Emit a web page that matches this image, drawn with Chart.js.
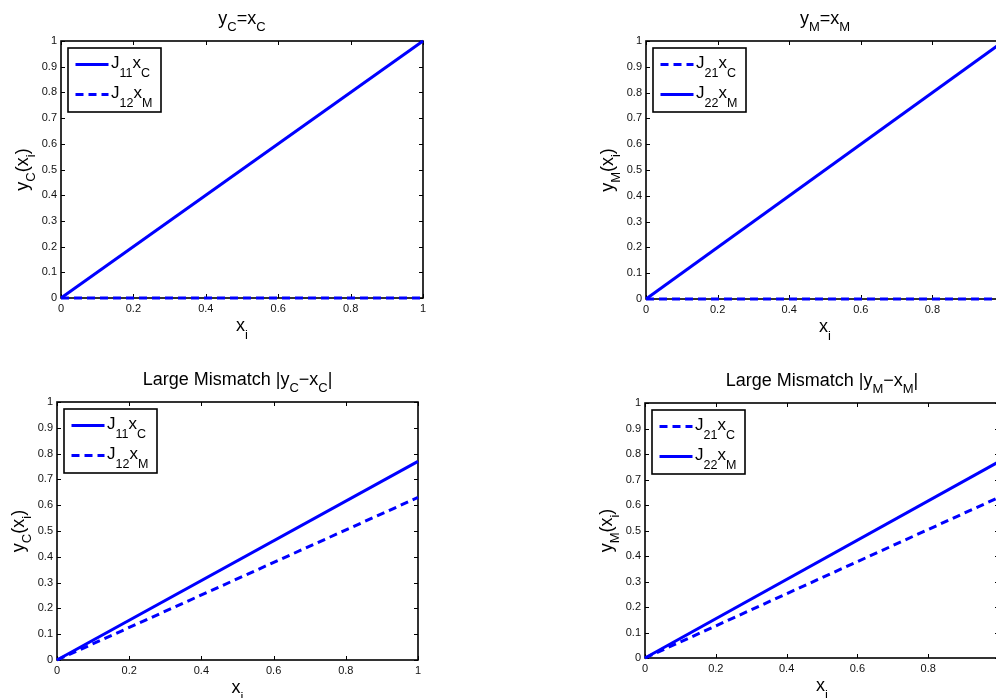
<!DOCTYPE html>
<html>
<head>
<meta charset="utf-8">
<script src="https://cdn.jsdelivr.net/npm/chart.js@4/dist/chart.umd.min.js"></script>
<style>
    html, body { margin: 0; padding: 0; background: #fff; overflow: hidden; width: 996px; height: 698px; }
    .box { position: absolute; }
</style>
</head>
<body>
<div class="box" style="left:0;top:0;width:440px;height:350px"><canvas id="q1"></canvas></div>
<div class="box" style="left:560px;top:0;width:470px;height:350px"><canvas id="q2"></canvas></div>
<div class="box" style="left:0;top:350px;width:440px;height:348px"><canvas id="q3"></canvas></div>
<div class="box" style="left:560px;top:350px;width:470px;height:348px"><canvas id="q4"></canvas></div>
<script>
// datos de las cuatro graficas
const xValues = [0, 1]
const xTicks = [0, 0.2, 0.4, 0.6, 0.8, 1]
const xTickLabels = ['0', '0.2', '0.4', '0.6', '0.8', '1']
const yTicks = [0, 0.1, 0.2, 0.3, 0.4, 0.5, 0.6, 0.7, 0.8, 0.9, 1]
const yTickLabels = ['0', '0.1', '0.2', '0.3', '0.4', '0.5', '0.6', '0.7', '0.8', '0.9', '1']

const matchJ11 = [0, 1]
const matchJ12 = [0, 0]
const matchJ21 = [0, 0]
const matchJ22 = [0, 1]
const mismatchJ11 = [0, 0.77]
const mismatchJ12 = [0, 0.63]
const mismatchJ21 = [0, 0.63]
const mismatchJ22 = [0, 0.77]

const FONT = '"Liberation Sans", Arial, Helvetica, sans-serif'
const BLUE = '#0000ff'
const DASH = [8, 5]

// texto tipo tex: x_C o J_{11}
const parseTex = s => {
    const out = []
    let i = 0
    while (i < s.length) {
        if (s[i] === '_') {
            i++
            if (s[i] === '{') {
                const j = s.indexOf('}', i)
                out.push({ t: s.slice(i + 1, j), sub: true })
                i = j + 1
            } else {
                out.push({ t: s[i], sub: true })
                i++
            }
        } else {
            let j = i
            while (j < s.length && s[j] !== '_') j++
            out.push({ t: s.slice(i, j), sub: false })
            i = j
        }
    }
    return out
}

const drawTex = (ctx, str, x, y, size, subSize, drop, align) => {
    const parts = parseTex(str)
    let w = 0
    parts.forEach(p => {
        ctx.font = (p.sub ? subSize : size) + 'px ' + FONT
        p.w = ctx.measureText(p.t).width
        w += p.w
    })
    let cx = align === 'center' ? x - w / 2 : x
    ctx.textAlign = 'left'
    ctx.textBaseline = 'alphabetic'
    ctx.fillStyle = '#000'
    parts.forEach(p => {
        ctx.font = (p.sub ? subSize : size) + 'px ' + FONT
        ctx.fillText(p.t, cx, p.sub ? y + drop : y)
        cx += p.w
    })
}

const matlabPlugin = {
    id: 'matlab',
    beforeDatasetsDraw(chart, args, opts) {
        const { ctx, chartArea: a, scales } = chart
        ctx.save()
        ctx.strokeStyle = '#000'
        ctx.lineWidth = 1
        ctx.beginPath()
        xTicks.forEach(v => {
            const px = Math.round(scales.x.getPixelForValue(v)) + 0.5
            ctx.moveTo(px, a.bottom); ctx.lineTo(px, a.bottom - 4)
            ctx.moveTo(px, a.top); ctx.lineTo(px, a.top + 4)
        })
        yTicks.forEach(v => {
            const py = Math.round(scales.y.getPixelForValue(v)) + 0.5
            ctx.moveTo(a.left, py); ctx.lineTo(a.left + 4, py)
            ctx.moveTo(a.right, py); ctx.lineTo(a.right - 4, py)
        })
        ctx.stroke()
        ctx.lineWidth = 1.6
        ctx.strokeRect(a.left, a.top, a.right - a.left, a.bottom - a.top)
        ctx.restore()
    },
    afterDraw(chart, args, opts) {
        const { ctx, chartArea: a } = chart
        ctx.save()
        const cx = (a.left + a.right) / 2
        drawTex(ctx, opts.title, cx, a.top - 17, 18, 13, 6.5, 'center')
        drawTex(ctx, opts.xlabel, cx, a.bottom + 33, 18, 13, 7.5, 'center')
        ctx.save()
        ctx.translate(a.left - 33, (a.top + a.bottom) / 2)
        ctx.rotate(-Math.PI / 2)
        drawTex(ctx, opts.ylabel, 0, 0, 18, 13, 6.5, 'center')
        ctx.restore()

        // leyenda
        const bx = a.left + 7, by = a.top + 7
        ctx.fillStyle = '#fff'
        ctx.fillRect(bx, by, 93, 64)
        ctx.strokeStyle = '#000'
        ctx.lineWidth = 1.6
        ctx.strokeRect(bx, by, 93, 64)
        chart.data.datasets.forEach((ds, i) => {
            const ly = by + 16.5 + i * 30
            ctx.strokeStyle = ds.borderColor
            ctx.lineWidth = ds.borderWidth
            ctx.setLineDash(ds.borderDash || [])
            ctx.beginPath()
            ctx.moveTo(bx + 7.5, ly)
            ctx.lineTo(bx + 40.5, ly)
            ctx.stroke()
            ctx.setLineDash([])
            drawTex(ctx, ds.label, bx + 43, ly + 3, 17, 12.5, 9, 'left')
        })
        ctx.restore()
    }
}

const toPoints = arr => xValues.map((x, i) => ({ x: x, y: arr[i] }))

const serie = (label, values, dashed) => ({
    label: label,
    data: toPoints(values),
    borderColor: BLUE,
    backgroundColor: BLUE,
    borderWidth: 3,
    borderDash: dashed ? DASH : [],
    pointRadius: 0,
    fill: false,
    tension: 0,
    clip: false
})

const tickFont = { family: FONT, size: 11 }

const plot = (id, series, texts, box) => {
    new Chart(id, {
        type: 'line',
        data: { datasets: series },
        options: {
            responsive: true,
            maintainAspectRatio: false,
            animation: false,
            events: [],
            layout: { padding: { left: 0, top: box.top, right: box.right, bottom: 0 } },
            plugins: {
                legend: { display: false },
                tooltip: { enabled: false },
                matlab: texts
            },
            scales: {
                x: {
                    type: 'linear', min: 0, max: 1,
                    grid: { display: false, drawTicks: false, tickLength: 0 }, border: { display: false },
                    afterBuildTicks: s => { s.ticks = xTicks.map(v => ({ value: v })) },
                    afterFit: s => { s.height = box.xh },
                    ticks: { callback: (v, i) => xTickLabels[i], padding: 4, maxRotation: 0, autoSkip: false, font: tickFont, color: '#111' }
                },
                y: {
                    type: 'linear', min: 0, max: 1,
                    grid: { display: false, drawTicks: false, tickLength: 0 }, border: { display: false },
                    afterBuildTicks: s => { s.ticks = yTicks.map(v => ({ value: v })) },
                    afterFit: s => { s.width = box.yw },
                    ticks: { callback: (v, i) => yTickLabels[i], padding: 4, autoSkip: false, font: tickFont, color: '#111' }
                }
            }
        },
        plugins: [matlabPlugin]
    })
}

plot('q1',
    [serie('J_{11}x_C', matchJ11, false), serie('J_{12}x_M', matchJ12, true)],
    { title: 'y_C=x_C', xlabel: 'x_i', ylabel: 'y_C(x_i)' },
    { yw: 61, top: 41, right: 17, xh: 52 })

plot('q2',
    [serie('J_{21}x_C', matchJ21, true), serie('J_{22}x_M', matchJ22, false)],
    { title: 'y_M=x_M', xlabel: 'x_i', ylabel: 'y_M(x_i)' },
    { yw: 86, top: 41, right: 26, xh: 51 })

plot('q3',
    [serie('J_{11}x_C', mismatchJ11, false), serie('J_{12}x_M', mismatchJ12, true)],
    { title: 'Large Mismatch |y_C\u2212x_C|', xlabel: 'x_i', ylabel: 'y_C(x_i)' },
    { yw: 57, top: 52, right: 22, xh: 38 })

plot('q4',
    [serie('J_{21}x_C', mismatchJ21, true), serie('J_{22}x_M', mismatchJ22, false)],
    { title: 'Large Mismatch |y_M\u2212x_M|', xlabel: 'x_i', ylabel: 'y_M(x_i)' },
    { yw: 85, top: 53, right: 31, xh: 40 })
</script>
</body>
</html>
